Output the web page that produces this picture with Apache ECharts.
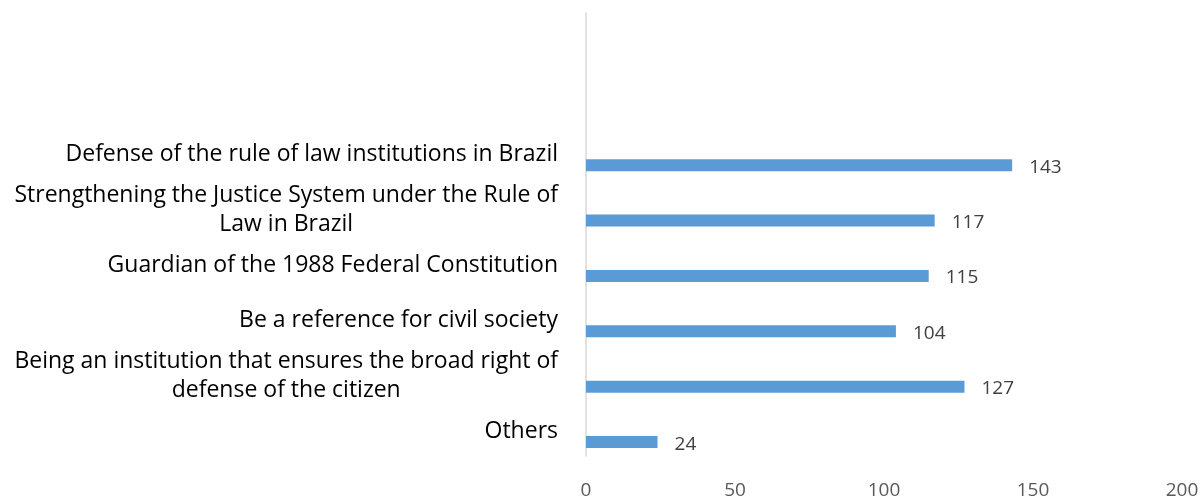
<!DOCTYPE html>
<html>
<head>
<meta charset="utf-8">
<script src="https://cdn.jsdelivr.net/npm/echarts@6/dist/echarts.min.js"></script>
<style>
  html, body { margin: 0; padding: 0; background: #fff; }
  #chart { width: 1204px; height: 500px; }
</style>
</head>
<body>
<div id="chart"></div>
<script>
// categories, bottom to top (the two blank ones leave the empty space on top)
let categories = [
  'Others',
  'Being an institution that ensures the broad right of\ndefense of the citizen',
  'Be a reference for civil society',
  'Guardian of the 1988 Federal Constitution',
  'Strengthening the Justice System under the Rule of\nLaw in Brazil',
  'Defense of the rule of law institutions in Brazil',
  '',
  ''
]
let values = [24, 127, 104, 115, 117, 143, null, null]
// empty companion series (it only takes the upper half of each slot)
let emptyValues = [null, null, null, null, null, null, null, null]
let xTicks = { min: 0, max: 200, interval: 50 }

let myChart = echarts.init(document.getElementById('chart'))
myChart.setOption({
  animation: false,
  grid: {
    left: 586,
    right: 22,
    top: 13,
    bottom: 40
  },
  xAxis: {
    type: 'value',
    min: xTicks.min,
    max: xTicks.max,
    interval: xTicks.interval,
    axisLine: { show: false },
    axisTick: { show: false },
    splitLine: { show: false },
    axisLabel: {
      color: '#595959',
      fontFamily: 'Open Sans',
      fontSize: 19,
      margin: 25
    }
  },
  yAxis: {
    type: 'category',
    data: categories,
    axisTick: { show: false },
    axisLine: {
      lineStyle: { color: '#d9d9d9', width: 1.5 }
    },
    axisLabel: {
      interval: 0,
      margin: 28,
      padding: [6, 0, 0, 0],
      formatter: function (value) {
        // center every line of a wrapped label
        return value.split('\n').map(function (l) { return '{c|' + l + '}' }).join('\n')
      },
      rich: {
        c: {
          align: 'center',
          color: '#000',
          fontFamily: 'Open Sans',
          fontSize: 23,
          lineHeight: 29
        }
      }
    }
  },
  series: [
    {
      type: 'bar',
      data: emptyValues,
      barWidth: 12,
      barGap: '130%'
    },
    {
      type: 'bar',
      data: values,
      barWidth: 12,
      barGap: '130%',
      itemStyle: { color: '#5b9bd5' },
      label: {
        show: true,
        position: 'right',
        distance: 17,
        offset: [0, 2],
        color: '#404040',
        fontFamily: 'Open Sans',
        fontSize: 19
      }
    }
  ]
})
</script>
</body>
</html>
